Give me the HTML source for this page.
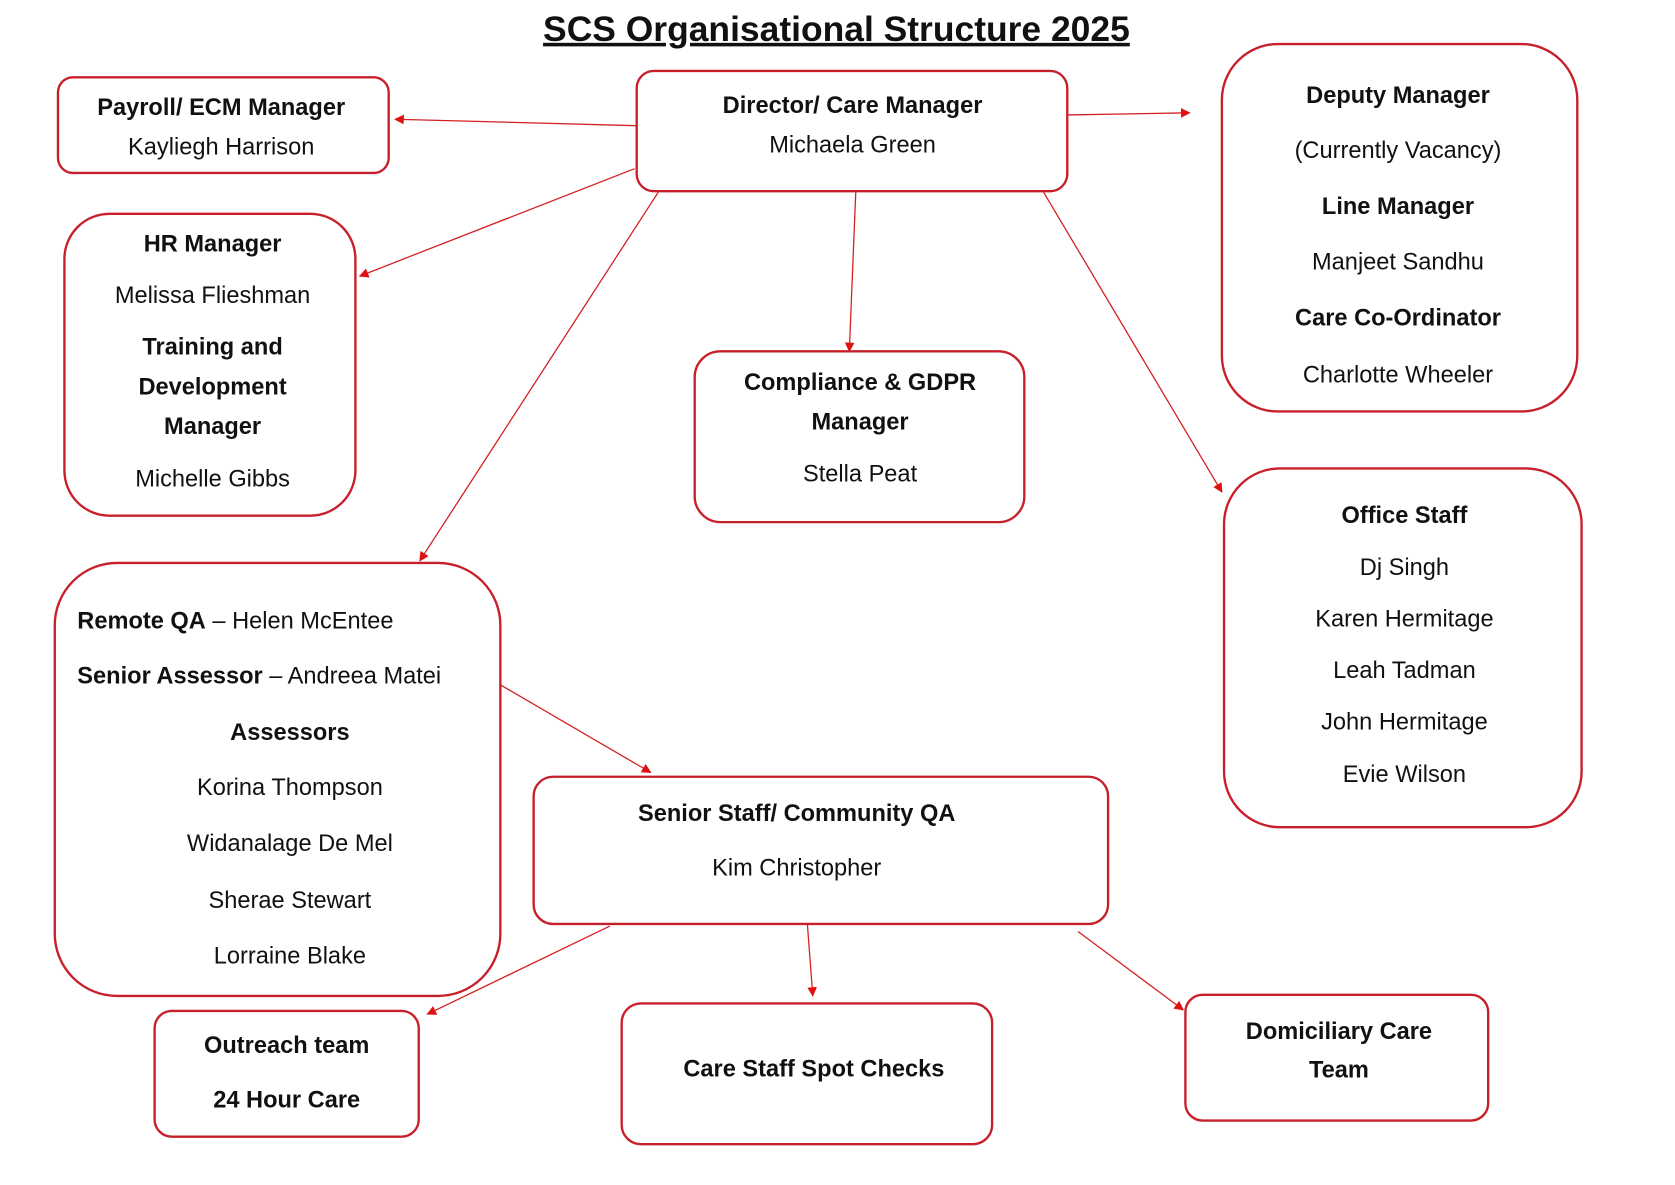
<!DOCTYPE html>
<html><head><meta charset="utf-8"><style>
html,body{margin:0;padding:0;background:#fff;}
svg{display:block;}
text{font-family:"Liberation Sans",sans-serif;font-size:22px;fill:#111;text-anchor:middle;}
.b{font-weight:bold;}
.box{fill:#fff;stroke:#c8202a;stroke-width:2.2;}
.ln{stroke:#d42020;stroke-width:1.2;fill:none;marker-end:url(#ah);}
</style></head><body>
<svg width="1675" height="1185" viewBox="0 0 1560 1103" preserveAspectRatio="none" xmlns="http://www.w3.org/2000/svg">
<defs><marker id="ah" viewBox="0 0 10 10" refX="9" refY="5" markerWidth="9" markerHeight="9" markerUnits="userSpaceOnUse" orient="auto"><path d="M0,0 L10,5 L0,10 z" fill="#e01010"/></marker></defs>

<text x="779" y="38" class="b" style="font-size:33px;text-decoration:underline">SCS Organisational Structure 2025</text>

<!-- connectors -->
<line class="ln" x1="593" y1="117" x2="368" y2="111"/>
<line class="ln" x1="994" y1="107" x2="1108" y2="105"/>
<line class="ln" x1="591" y1="157" x2="335" y2="257"/>
<line class="ln" x1="613" y1="179" x2="391" y2="522"/>
<line class="ln" x1="797" y1="179" x2="791" y2="327"/>
<line class="ln" x1="972" y1="179" x2="1138" y2="458"/>
<line class="ln" x1="467" y1="638" x2="606" y2="719"/>
<line class="ln" x1="568" y1="862" x2="398" y2="944"/>
<line class="ln" x1="752" y1="861" x2="757" y2="927"/>
<line class="ln" x1="1004" y1="867" x2="1102" y2="940"/>

<!-- boxes -->
<rect class="box" x="54" y="72" width="308" height="89" rx="14"/>
<text x="206" y="107" class="b">Payroll/ ECM Manager</text>
<text x="206" y="144">Kayliegh Harrison</text>

<rect class="box" x="593" y="66" width="401" height="112" rx="16"/>
<text x="794" y="105" class="b">Director/ Care Manager</text>
<text x="794" y="142">Michaela Green</text>

<rect class="box" x="1138" y="41" width="331" height="342" rx="52"/>
<text x="1302" y="96" class="b">Deputy Manager</text>
<text x="1302" y="147">(Currently Vacancy)</text>
<text x="1302" y="199" class="b">Line Manager</text>
<text x="1302" y="251">Manjeet Sandhu</text>
<text x="1302" y="303" class="b">Care Co-Ordinator</text>
<text x="1302" y="356">Charlotte Wheeler</text>

<rect class="box" x="60" y="199" width="271" height="281" rx="42"/>
<text x="198" y="234" class="b">HR Manager</text>
<text x="198" y="282">Melissa Flieshman</text>
<text x="198" y="330" class="b">Training and</text>
<text x="198" y="367" class="b">Development</text>
<text x="198" y="404" class="b">Manager</text>
<text x="198" y="453">Michelle Gibbs</text>

<rect class="box" x="647" y="327" width="307" height="159" rx="24"/>
<text x="801" y="363" class="b">Compliance &amp; GDPR</text>
<text x="801" y="400" class="b">Manager</text>
<text x="801" y="448">Stella Peat</text>

<rect class="box" x="1140" y="436" width="333" height="334" rx="52"/>
<text x="1308" y="487" class="b">Office Staff</text>
<text x="1308" y="535">Dj Singh</text>
<text x="1308" y="583">Karen Hermitage</text>
<text x="1308" y="631">Leah Tadman</text>
<text x="1308" y="679">John Hermitage</text>
<text x="1308" y="728">Evie Wilson</text>

<rect class="box" x="51" y="524" width="415" height="403" rx="58"/>
<text x="72" y="585" style="text-anchor:start"><tspan class="b">Remote QA</tspan> – Helen McEntee</text>
<text x="72" y="636" style="text-anchor:start"><tspan class="b">Senior Assessor</tspan> – Andreea Matei</text>
<text x="270" y="689" class="b">Assessors</text>
<text x="270" y="740">Korina Thompson</text>
<text x="270" y="792">Widanalage De Mel</text>
<text x="270" y="845">Sherae Stewart</text>
<text x="270" y="897">Lorraine Blake</text>

<rect class="box" x="497" y="723" width="535" height="137" rx="18"/>
<text x="742" y="764" class="b">Senior Staff/ Community QA</text>
<text x="742" y="815">Kim Christopher</text>

<rect class="box" x="144" y="941" width="246" height="117" rx="16"/>
<text x="267" y="980" class="b">Outreach team</text>
<text x="267" y="1031" class="b">24 Hour Care</text>

<rect class="box" x="579" y="934" width="345" height="131" rx="18"/>
<text x="758" y="1002" class="b">Care Staff Spot Checks</text>

<rect class="box" x="1104" y="926" width="282" height="117" rx="16"/>
<text x="1247" y="967" class="b">Domiciliary Care</text>
<text x="1247" y="1003" class="b">Team</text>
</svg>
</body></html>
